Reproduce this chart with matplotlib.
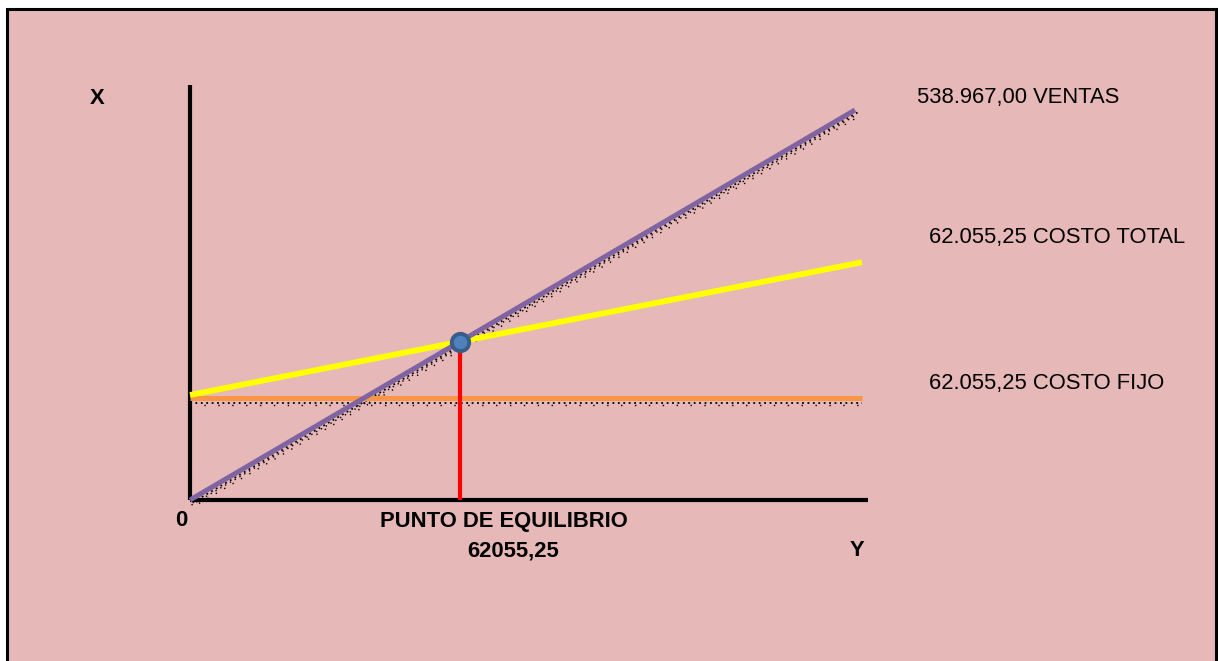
import matplotlib
matplotlib.use("Agg")
import matplotlib.pyplot as plt
import matplotlib.transforms as mtransforms
from matplotlib.patches import Rectangle

W, H = 1218, 661
DPI = 100

# ---- data ----
ventas_x = [0, 152839]
ventas_y = [0, 538967]
costo_fijo_x = [0, 154448]
costo_fijo_y = [140960, 140960]
costo_total_x = [0, 154448]
costo_total_y = [145110, 328585]
equilibrio_x = 62055.25
equilibrio_y = 218827
eje_x_max = 155825
eje_y_max = 573518

label_ventas = "538.967,00 VENTAS"
label_total = "62.055,25 COSTO TOTAL"
label_fijo = "62.055,25 COSTO FIJO"
label_equilibrio = "PUNTO DE EQUILIBRIO"
label_valor_eq = "62055,25"

plt.rcParams['font.family'] = ['Liberation Sans', 'DejaVu Sans']

fig = plt.figure(figsize=(W / DPI, H / DPI), dpi=DPI)
fig.patch.set_facecolor("white")

def fx(px):
    return px / W

def fy(py):
    return 1 - py / H

# background panel with border
fig.patches.append(Rectangle((fx(7), fy(700)), fx(1216) - fx(7), fy(9) - fy(700),
                             transform=fig.transFigure, facecolor="#E6B8B7",
                             edgecolor="black", linewidth=2.2, zorder=-5))

ax = fig.add_axes([0, 0, 1, 1])
ax.set_zorder(2)
ax.set_facecolor("none")
ax.axis("off")
sx = equilibrio_x / 270.0
sy = ventas_y[1] / 390.0
ax.set_xlim(-190 * sx, (W - 190) * sx)
ax.set_ylim(-(H - 500) * sy, 500 * sy)

def off(dx, dy):
    return mtransforms.offset_copy(ax.transData, fig=fig, x=dx, y=dy, units="dots")

# dotted shadows
ax.plot(ventas_x, ventas_y, color="black", lw=1.3, ls=(0, (1, 2)), transform=off(2.5, -2.5), zorder=2)
ax.plot(ventas_x, ventas_y, color="black", lw=1.0, ls=(0, (1, 3)), transform=off(1.5, -5.0), zorder=2)
ax.plot(ventas_x, ventas_y, color="black", lw=1.0, ls=(2, (1, 6)), transform=off(3.0, -7.0), zorder=2)
ax.plot(costo_fijo_x, costo_fijo_y, color="black", lw=1.3, ls=(0, (1, 2)), transform=off(0, -4.5), zorder=2)
ax.plot(costo_fijo_x, costo_fijo_y, color="black", lw=1.0, ls=(0, (1, 9)), transform=off(0, -6.5), zorder=2)

# axes lines
ax.plot([0, 0], [0, eje_y_max], color="black", lw=3.0, solid_capstyle="butt", zorder=3)
ax.plot([0, eje_x_max], [0, 0], color="black", lw=3.0, solid_capstyle="butt", zorder=3)

# series
ax.plot(costo_fijo_x, costo_fijo_y, color="#F79646", lw=3.6, solid_capstyle="butt", zorder=4)
ax.plot(costo_total_x, costo_total_y, color="#FFFF00", lw=4.2, solid_capstyle="butt", zorder=5)
ax.plot(ventas_x, ventas_y, color="#8064A2", lw=3.6, solid_capstyle="butt", zorder=6)
ax.plot([equilibrio_x, equilibrio_x], [0, equilibrio_y], color="#FF0000", lw=3.0,
        solid_capstyle="butt", zorder=5)
ax.plot([equilibrio_x], [equilibrio_y], marker="o", ms=12.5, color="#4F81BD",
        markeredgecolor="#385D8A", markeredgewidth=2.8, zorder=7)

# texts
fs = 15.8
fig.text(fx(97), fy(98), "X", ha="center", va="center", fontsize=fs, fontweight="bold")
fig.text(fx(181), fy(521), "0", ha="center", va="center", fontsize=fs, fontweight="bold")
fig.text(fx(380), fy(521), label_equilibrio, ha="left", va="center", fontsize=fs, fontweight="bold")
fig.text(fx(467), fy(551), label_valor_eq, ha="left", va="center", fontsize=fs, fontweight="bold")
fig.text(fx(857), fy(551), "Y", ha="center", va="center", fontsize=fs, fontweight="bold")
fig.text(fx(917), fy(98), label_ventas, ha="left", va="center", fontsize=fs)
fig.text(fx(929), fy(238), label_total, ha="left", va="center", fontsize=fs)
fig.text(fx(929), fy(383), label_fijo, ha="left", va="center", fontsize=fs)

fig.savefig("out.png", dpi=DPI)
